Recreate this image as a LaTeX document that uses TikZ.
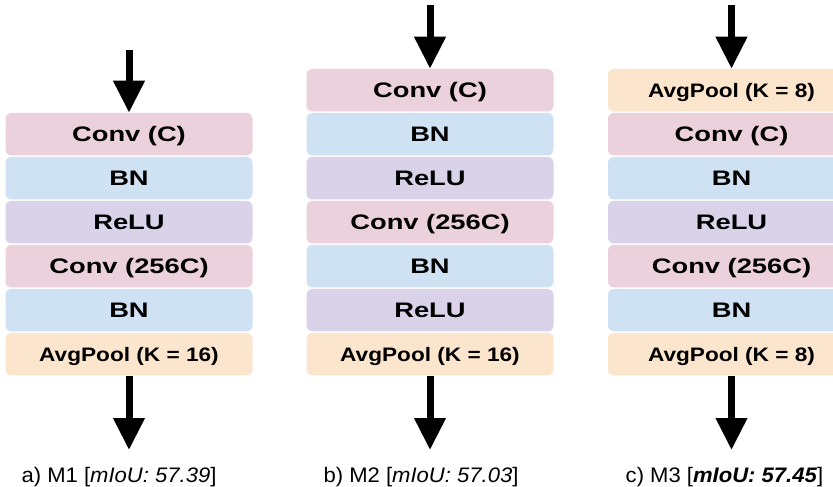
\documentclass[tikz,border=0pt]{standalone}
\usepackage{fontspec}
\setmainfont{Liberation Sans}
\newfontfamily\boxfont[FakeStretch=1.3]{Liberation Sans}
\newfontfamily\poolfont[FakeStretch=1.16]{Liberation Sans}
\newfontfamily\labfont[FakeStretch=1.05]{Liberation Sans}
\usetikzlibrary{arrows.meta}
\definecolor{convcol}{HTML}{EAD1DC}
\definecolor{bncol}{HTML}{CFE2F3}
\definecolor{relucol}{HTML}{D9D2E9}
\definecolor{poolcol}{HTML}{FCE5CD}
\tikzset{
  layer/.style={rounded corners=6pt, minimum width=247pt, minimum height=42.5pt,
    inner sep=0pt, text height=15pt, text depth=0pt,
    font={\boxfont\fontsize{21pt}{24pt}\selectfont\bfseries}},
  poollayer/.style={layer, fill=poolcol, text height=14pt,
    font={\poolfont\fontsize{19.5pt}{22pt}\selectfont\bfseries}},
  convlayer/.style={layer, fill=convcol},
  bnlayer/.style={layer, fill=bncol},
  relulayer/.style={layer, fill=relucol},
  flow/.style={line width=7pt, -{Triangle[width=30pt,length=32pt]}},
  caption/.style={anchor=base, inner sep=0pt,
    font={\labfont\fontsize{21pt}{24pt}\selectfont}}
}
\begin{document}
\begin{tikzpicture}[x=1pt,y=-1pt]
\useasboundingbox (0,0) rectangle (833,487);
\clip (0,0) rectangle (833,487);
\fill[white] (0,0) rectangle (833,487);
% column 1
\node[convlayer] (a1) at (129,134.2) {Conv (C)};
\node[bnlayer]   (a2) at (129,178.2) {BN};
\node[relulayer] (a3) at (129,222.2) {ReLU};
\node[convlayer] (a4) at (129,266.2) {Conv (256C)};
\node[bnlayer]   (a5) at (129,310.2) {BN};
\node[poollayer] (a6) at (129,354.2) {AvgPool (K = 16)};
\coordinate (a0) at (129,50);
\coordinate (a7) at (129,450);
\draw[flow] (a0) -- (a1.north);
\draw[flow] (a6.south) -- (a7);
% column 2
\node[convlayer] (b1) at (430,90.2) {Conv (C)};
\node[bnlayer]   (b2) at (430,134.2) {BN};
\node[relulayer] (b3) at (430,178.2) {ReLU};
\node[convlayer] (b4) at (430,222.2) {Conv (256C)};
\node[bnlayer]   (b5) at (430,266.2) {BN};
\node[relulayer] (b6) at (430,310.2) {ReLU};
\node[poollayer] (b7) at (430,354.2) {AvgPool (K = 16)};
\coordinate (b0) at (430,5);
\coordinate (b8) at (430,450);
\draw[flow] (b0) -- (b1.north);
\draw[flow] (b7.south) -- (b8);
% column 3
\node[poollayer] (c1) at (731.5,90.2) {AvgPool (K = 8)};
\node[convlayer] (c2) at (731.5,134.2) {Conv (C)};
\node[bnlayer]   (c3) at (731.5,178.2) {BN};
\node[relulayer] (c4) at (731.5,222.2) {ReLU};
\node[convlayer] (c5) at (731.5,266.2) {Conv (256C)};
\node[bnlayer]   (c6) at (731.5,310.2) {BN};
\node[poollayer] (c7) at (731.5,354.2) {AvgPool (K = 8)};
\coordinate (c0) at (731.5,5);
\coordinate (c8) at (731.5,450);
\draw[flow] (c0) -- (c1.north);
\draw[flow] (c7.south) -- (c8);
% captions
\node[caption] (la) at (119,482.5) {a) M1 [\textit{mIoU: 57.39}]};
\node[caption] (lb) at (421,482.5) {b) M2 [\textit{mIoU: 57.03}]};
\node[caption] (lc) at (724.5,482.5) {c) M3 [\textbf{\textit{mIoU: 57.45}}]};
\end{tikzpicture}
\end{document}
